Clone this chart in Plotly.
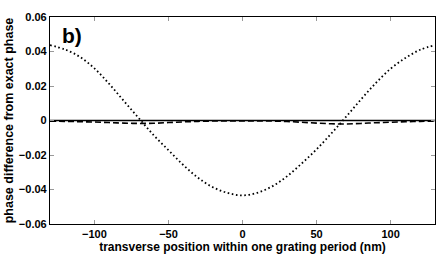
import plotly.graph_objects as go

# transverse position (nm)
x_nm = [-130, -120, -110, -100, -90, -80, -70, -60, -50, -40, -30, -20, -10, 0,
        10, 20, 30, 40, 50, 60, 70, 80, 90, 100, 110, 120, 130]

# dotted curve
dotted = [0.0437, 0.0412, 0.0370, 0.0302, 0.0212, 0.0112, 0.0013, -0.0085, -0.0172,
          -0.0258, -0.0332, -0.0387, -0.0420, -0.0434, -0.0419, -0.0382, -0.0324,
          -0.0249, -0.0167, -0.0075, 0.0022, 0.0122, 0.0217, 0.0300, 0.0362, 0.0410, 0.0437]

# dashed curve
dashed = [-0.0004, -0.0005, -0.0007, -0.0009, -0.0012, -0.0015, -0.0017, -0.0016, -0.0012,
          -0.0008, -0.0005, -0.0003, -0.0002, -0.0002, -0.0002, -0.0003, -0.0006, -0.0010,
          -0.0015, -0.0019, -0.0020, -0.0017, -0.0013, -0.0010, -0.0007, -0.0005, -0.0004]

# solid curve
solid = [0.0000, 0.0000, 0.0000, 0.0000, 0.0000, 0.0000, 0.0000, 0.0000, 0.0000,
         0.0000, 0.0000, 0.0000, 0.0000, 0.0000, 0.0000, 0.0000, 0.0000, 0.0000,
         0.0000, 0.0000, 0.0000, 0.0000, 0.0000, 0.0000, 0.0000, 0.0000, 0.0000]

x_ticks = [-100, -50, 0, 50, 100]
x_tick_labels = ["\u2212100", "\u221250", "0", "50", "100"]
y_ticks = [-0.06, -0.04, -0.02, 0, 0.02, 0.04, 0.06]
y_tick_labels = ["\u22120.06", "\u22120.04", "\u22120.02", "0", "0.02", "0.04", "0.06"]

fig = go.Figure()
fig.add_trace(go.Scatter(x=x_nm, y=solid, mode="lines", line=dict(color="black", width=1.6), line_shape="spline"))
fig.add_trace(go.Scatter(x=x_nm, y=dashed, mode="lines", line=dict(color="black", width=1.6, dash="6px,3px"), line_shape="spline"))
fig.add_trace(go.Scatter(x=x_nm, y=dotted, mode="lines", line=dict(color="black", width=1.8, dash="1.6px,2.6px"), line_shape="spline"))

FAM = "Liberation Sans, Arial, sans-serif"
tfont = dict(family=FAM, size=11, color="black", weight="bold")

fig.update_layout(
    width=436, height=257,
    margin=dict(l=50, r=1, t=17, b=33),
    paper_bgcolor="white", plot_bgcolor="white",
    showlegend=False,
    font=tfont,
    xaxis=dict(range=[-130, 130], tickvals=x_ticks, ticktext=x_tick_labels,
               ticks="inside", ticklen=4, tickcolor="#999", mirror="allticks",
               showline=True, linecolor="black", linewidth=1.2, showgrid=False, zeroline=False,
               tickfont=tfont,
               title=dict(text="transverse position within one grating period (nm)",
                          font=dict(family=FAM, size=12, color="black", weight="bold"), standoff=0)),
    yaxis=dict(range=[-0.06, 0.06], tickvals=y_ticks, ticktext=y_tick_labels,
               ticks="inside", ticklen=4, tickcolor="#999", mirror="allticks",
               showline=True, linecolor="black", linewidth=1.2, showgrid=False, zeroline=False,
               tickfont=tfont,
               title=dict(text="phase difference from exact phase",
                          font=dict(family=FAM, size=12.5, color="black", weight="bold"), standoff=2)),
    annotations=[dict(text="b)", xref="paper", yref="paper", x=0.025, y=0.975,
                      xanchor="left", yanchor="top", showarrow=False,
                      font=dict(family=FAM, size=21, color="black", weight="bold"))],
)

fig.write_html("out.html", config={"displayModeBar": False},
               post_script="document.body.style.margin='0';")
